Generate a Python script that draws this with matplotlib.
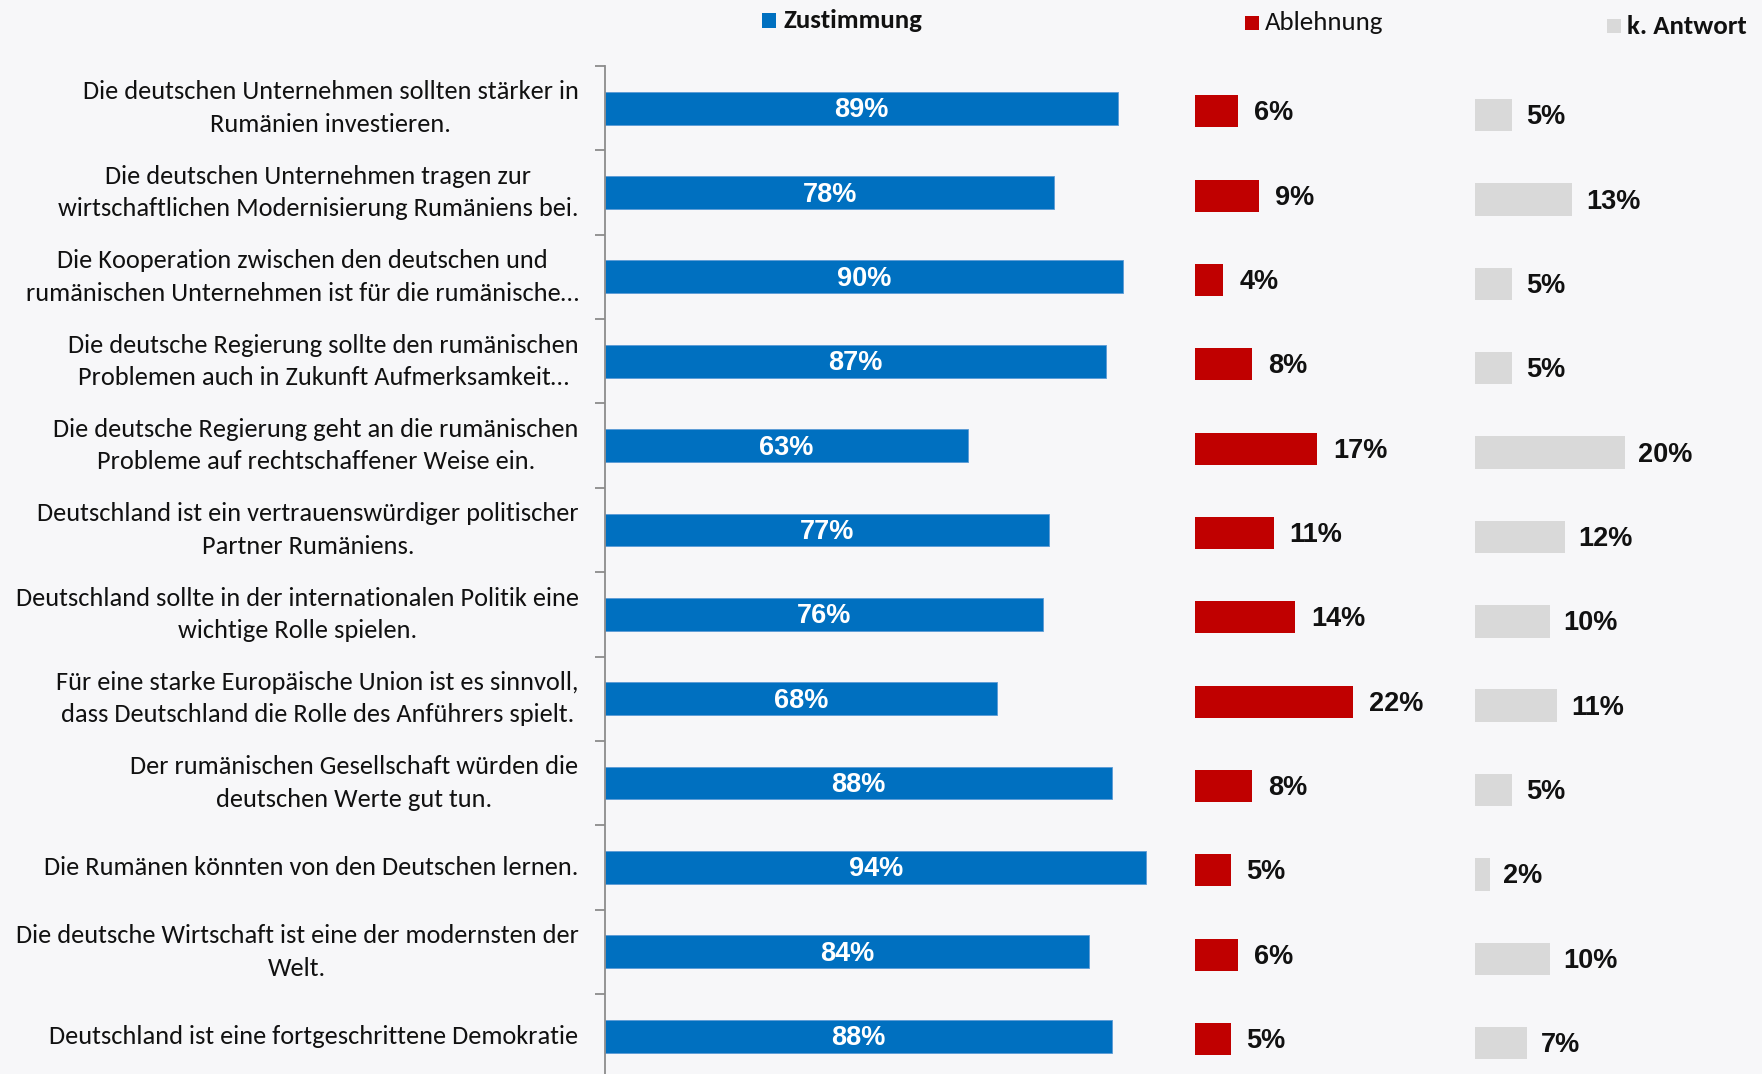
import matplotlib
matplotlib.use("Agg")
import matplotlib.pyplot as plt
from matplotlib.patches import Rectangle
from matplotlib import font_manager as fm

categories = [
    "Die deutschen Unternehmen sollten stärker in\nRumänien investieren.",
    "Die deutschen Unternehmen tragen zur\nwirtschaftlichen Modernisierung Rumäniens bei.",
    "Die Kooperation zwischen den deutschen und\nrumänischen Unternehmen ist für die rumänische…",
    "Die deutsche Regierung sollte den rumänischen\nProblemen auch in Zukunft Aufmerksamkeit…",
    "Die deutsche Regierung geht an die rumänischen\nProbleme auf rechtschaffener Weise ein.",
    "Deutschland ist ein vertrauenswürdiger politischer\nPartner Rumäniens.",
    "Deutschland sollte in der internationalen Politik eine\nwichtige Rolle spielen.",
    "Für eine starke Europäische Union ist es sinnvoll,\ndass Deutschland die Rolle des Anführers spielt.",
    "Der rumänischen Gesellschaft würden die\ndeutschen Werte gut tun.",
    "Die Rumänen könnten von den Deutschen lernen.",
    "Die deutsche Wirtschaft ist eine der modernsten der\nWelt.",
    "Deutschland ist eine fortgeschrittene Demokratie",
]
zustimmung = [89, 78, 90, 87, 63, 77, 76, 68, 88, 94, 84, 88]
ablehnung = [6, 9, 4, 8, 17, 11, 14, 22, 8, 5, 6, 5]
k_antwort = [5, 13, 5, 5, 20, 12, 10, 11, 5, 2, 10, 7]
legend_labels = ["Zustimmung", "Ablehnung", "k. Antwort"]

BLUE = "#0070C0"
RED = "#C00000"
GRAY = "#D9D9D9"
BG = "#F7F7F9"

avail = {f.name for f in fm.fontManager.ttflist}
label_font = "Carlito" if "Carlito" in avail else "Lato"
label_size = 19 if label_font == "Carlito" else 16.6
num_font = "Liberation Sans"
num_size = 19.5

W, H = 1762, 1074
fig = plt.figure(figsize=(W / 100, H / 100), dpi=100, facecolor=BG)


def rect(x0, x1, ytop, ybot):
    return [x0 / W, 1 - ybot / H, (x1 - x0) / W, (ybot - ytop) / H]


n = len(categories)
pos = list(range(n))

# Blue panel
axb = fig.add_axes(rect(605, 605 + 576, 66, 1078.3))
axb.set_facecolor("none")
axb.barh(pos, zustimmung, height=0.39, color=BLUE, edgecolor="#5B9BD5", linewidth=0.6)
axb.set_xlim(0, 100)
axb.set_ylim(n - 0.5, -0.5)
for s in ["top", "right", "bottom"]:
    axb.spines[s].set_visible(False)
axb.spines["left"].set_color("#8C8C8C")
axb.spines["left"].set_linewidth(1.3)
axb.set_xticks([])
axb.set_yticks([i - 0.5 for i in range(n)])
axb.set_yticklabels([])
axb.tick_params(axis="y", which="major", length=7, width=1.3, color="#8C8C8C", direction="out")
for i, lab in enumerate(categories):
    axb.annotate(lab, (0, i), xycoords=("axes fraction", "data"),
                 xytext=(-19, 0), textcoords="offset points",
                 ha="right", va="center", multialignment="center", linespacing=1.5,
                 fontsize=label_size, family=label_font, color="#111111")
for i, v in enumerate(zustimmung):
    axb.annotate(f"{v}%", (v / 2, i), xytext=(0, -1.5), textcoords="offset points",
                 ha="center", va="center", color="white",
                 fontsize=num_size, fontweight="bold", family=num_font)

# Red panel
axr = fig.add_axes(rect(1194.5, 1194.5 + 30 * 7.2, 69, 1081.3))
axr.set_facecolor("none")
axr.barh(pos, ablehnung, height=0.38, color=RED)
axr.set_xlim(0, 30)
axr.set_ylim(n - 0.5, -0.5)
axr.axis("off")
for i, v in enumerate(ablehnung):
    axr.annotate(f"{v}%", (v, i), xytext=(11.5, -1.5), textcoords="offset points",
                 ha="left", va="center", fontsize=num_size, fontweight="bold",
                 family=num_font, color="#111111")

# Gray panel
axg = fig.add_axes(rect(1474.5, 1474.5 + 30 * 7.5, 73, 1085.3))
axg.set_facecolor("none")
axg.barh(pos, k_antwort, height=0.385, color=GRAY)
axg.set_xlim(0, 30)
axg.set_ylim(n - 0.5, -0.5)
axg.axis("off")
for i, v in enumerate(k_antwort):
    axg.annotate(f"{v}%", (v, i), xytext=(10, -1.5), textcoords="offset points",
                 ha="left", va="center", fontsize=num_size, fontweight="bold",
                 family=num_font, color="#111111")

# Legend items
leg = [
    (legend_labels[0], BLUE, 762, 13.5, 783, 20, "bold"),
    (legend_labels[1], RED, 1245, 16, 1265, 23, "normal"),
    (legend_labels[2], GRAY, 1607, 19, 1627, 27, "bold"),
]
for text, col, sx, sy, tx, ty, wt in leg:
    sq = 14
    fig.add_artist(Rectangle((sx / W, 1 - (sy + sq) / H), sq / W, sq / H,
                             transform=fig.transFigure, color=col, lw=0))
    fig.text(tx / W, 1 - ty / H, text, ha="left", va="center",
             fontsize=label_size + 0.4, fontweight=wt, family=label_font, color="#111111")

fig.savefig("out.png", dpi=100, facecolor=BG)
